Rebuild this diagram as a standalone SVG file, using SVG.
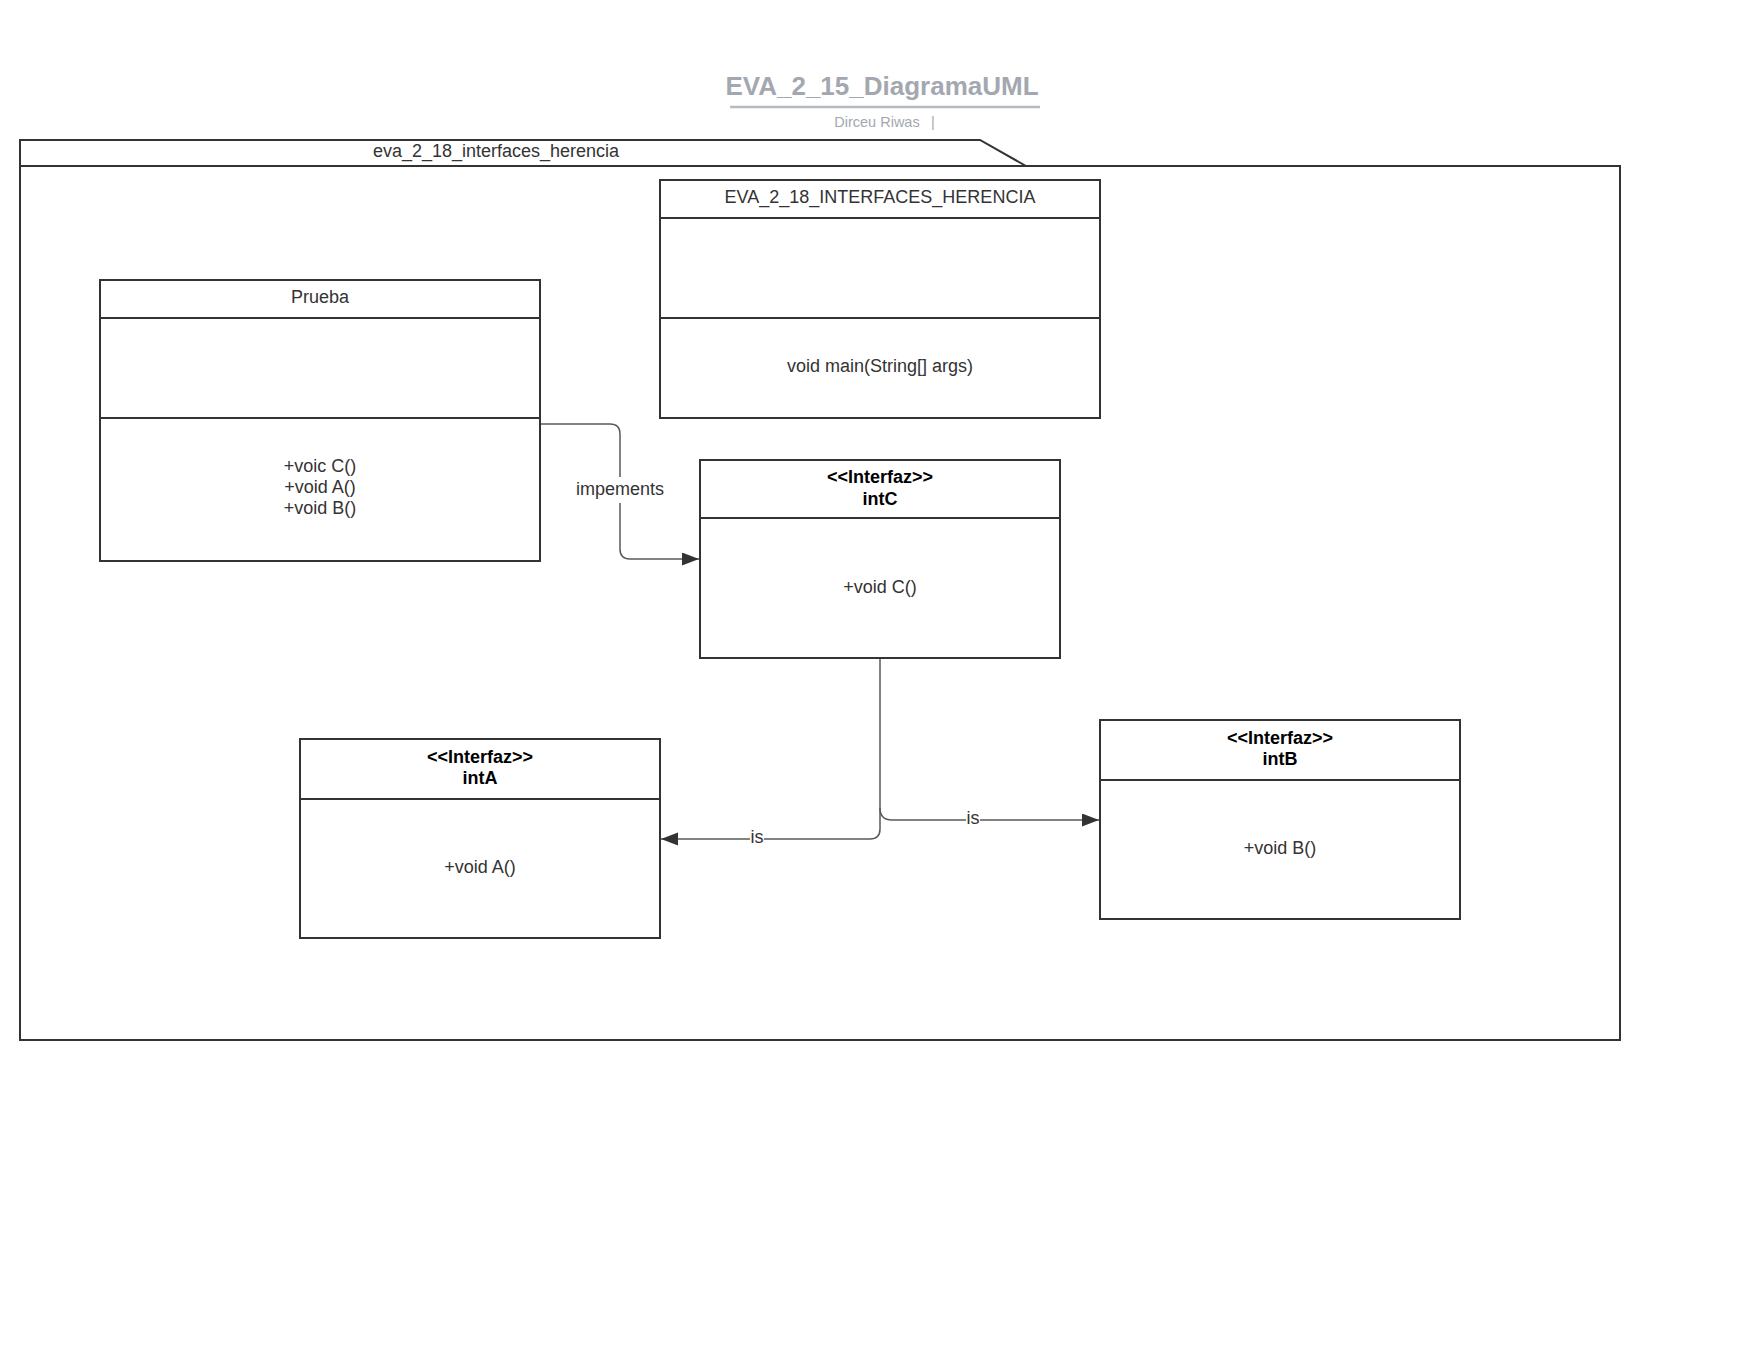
<svg xmlns="http://www.w3.org/2000/svg" width="1760" height="1360" viewBox="0 0 1760 1360">
<style>
.box{fill:#fff;stroke:#333;stroke-width:2}
.sep{stroke:#333;stroke-width:2;fill:none}
.t{font-family:"Liberation Sans",Arial,sans-serif;font-size:18px;fill:#333;text-anchor:middle}
.b{font-weight:bold;fill:#000}
.conn{fill:none;stroke:#595959;stroke-width:1.5}
.lbl{fill:#fff;stroke:none}
.meta{font-family:"Liberation Sans",Arial,sans-serif;fill:#a3a8b0;text-anchor:middle}
</style>
<defs>
<marker id="arrow" markerUnits="userSpaceOnUse" markerWidth="18" markerHeight="14" refX="17" refY="6.5" orient="auto">
<path d="M0,0 L17,6.5 L0,13 z" fill="#333"/>
</marker>
</defs>
<rect width="1760" height="1360" fill="#fff"/>
<g id="title">
<text x="882" y="95" class="meta" font-size="26" font-weight="bold">EVA_2_15_DiagramaUML</text>
<line x1="730" y1="107" x2="1040" y2="107" stroke="#b5b9c0" stroke-width="2.5"/>
<text x="877" y="127" class="meta" font-size="14.5">Dirceu Riwas</text>
<text x="933" y="127" class="meta" font-size="14.5">|</text>
</g>
<g id="package">
<path d="M20,166 L20,140 L980,140 L1026,166" class="sep"/>
<rect x="20" y="166" width="1600" height="874" class="sep"/>
<text x="496" y="157" class="t">eva_2_18_interfaces_herencia</text>
</g>
<g id="EVA_2_18_INTERFACES_HERENCIA">
<rect x="660" y="180" width="440" height="238" class="box"/>
<line x1="660" y1="218" x2="1100" y2="218" class="sep"/>
<line x1="660" y1="318" x2="1100" y2="318" class="sep"/>
<text x="880" y="203" class="t">EVA_2_18_INTERFACES_HERENCIA</text>
<text x="880" y="372" class="t">void main(String[] args)</text>
</g>
<g id="Prueba">
<rect x="100" y="280" width="440" height="281" class="box"/>
<line x1="100" y1="318" x2="540" y2="318" class="sep"/>
<line x1="100" y1="418" x2="540" y2="418" class="sep"/>
<text x="320" y="303" class="t">Prueba</text>
<text x="320" y="472" class="t">+voic C()</text>
<text x="320" y="493" class="t">+void A()</text>
<text x="320" y="514" class="t">+void B()</text>
</g>
<g id="intC">
<rect x="700" y="460" width="360" height="198" class="box"/>
<line x1="700" y1="518" x2="1060" y2="518" class="sep"/>
<text x="880" y="483" class="t b">&lt;&lt;Interfaz&gt;&gt;</text>
<text x="880" y="505" class="t b">intC</text>
<text x="880" y="593" class="t">+void C()</text>
</g>
<g id="intA">
<rect x="300" y="739" width="360" height="199" class="box"/>
<line x1="300" y1="799" x2="660" y2="799" class="sep"/>
<text x="480" y="763" class="t b">&lt;&lt;Interfaz&gt;&gt;</text>
<text x="480" y="784" class="t b">intA</text>
<text x="480" y="873" class="t">+void A()</text>
</g>
<g id="intB">
<rect x="1100" y="720" width="360" height="199" class="box"/>
<line x1="1100" y1="780" x2="1460" y2="780" class="sep"/>
<text x="1280" y="744" class="t b">&lt;&lt;Interfaz&gt;&gt;</text>
<text x="1280" y="765" class="t b">intB</text>
<text x="1280" y="854" class="t">+void B()</text>
</g>
<g id="connectors">
<path d="M541,424 L610,424 Q620,424 620,434 L620,549 Q620,559 630,559 L699,559" class="conn" marker-end="url(#arrow)"/>
<rect x="576" y="477" width="88" height="26" class="lbl"/>
<text x="620" y="495" class="t">impements</text>
<path d="M880,659 L880,829 Q880,839 870,839 L661,839" class="conn" marker-end="url(#arrow)"/>
<rect x="750" y="828" width="14" height="22" class="lbl"/>
<text x="757" y="843" class="t">is</text>
<path d="M880,808 Q880,820 892,820 L1099,820" class="conn" marker-end="url(#arrow)"/>
<rect x="966" y="809" width="14" height="22" class="lbl"/>
<text x="973" y="824" class="t">is</text>
</g>
</svg>
